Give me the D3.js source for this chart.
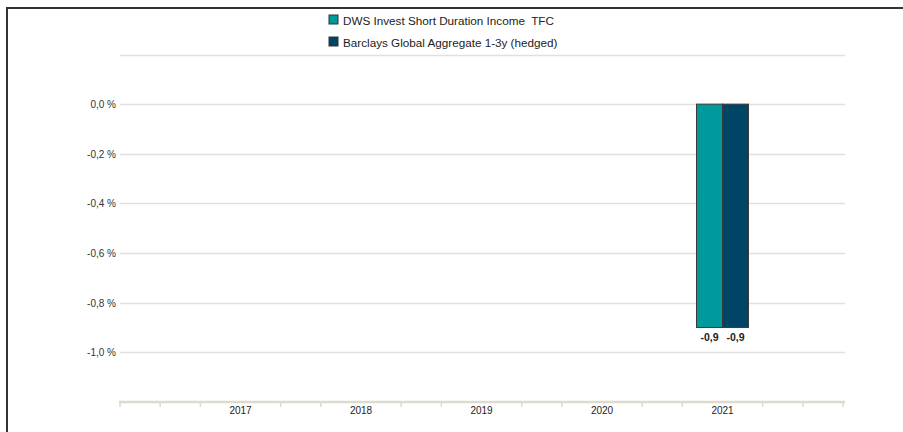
<!DOCTYPE html>
<html>
<head>
<meta charset="utf-8">
<script src="https://cdn.jsdelivr.net/npm/d3@7"></script>
<style>
  body { margin: 0; background: #fff; }
  text { font-family: "Liberation Sans", Arial, sans-serif; }
</style>
</head>
<body>
<div id="chart"></div>
<script>
// Data
const years = ['2017', '2018', '2019', '2020', '2021']
const seriesNames = ['DWS Invest Short Duration Income  TFC', 'Barclays Global Aggregate 1-3y (hedged)']
const fundValues = [null, null, null, null, -0.9]
const benchValues = [null, null, null, null, -0.9]
const yTicks = [0.2, 0, -0.2, -0.4, -0.6, -0.8, -1.0]
const colors = ['#009a9c', '#004466']

const width = 903, height = 432
const svg = d3.select('#chart')
  .append('svg')
  .attr('width', width)
  .attr('height', height)

// frame
svg.append('path')
  .attr('d', `M7,${height} V8 H${width}`)
  .attr('fill', 'none')
  .attr('stroke', '#333')
  .attr('stroke-width', 2)

// scales
const x = d3.scalePoint()
  .domain(years)
  .range([120, 843])
  .padding(1)

const y = d3.scaleLinear()
  .domain([-1.2, 0.2])
  .range([402, 54.5])

const fmt = d => d3.format('.1f')(d).replace('.', ',').replace('−', '-')

// grid
svg.append('g')
  .selectAll('line')
  .data(yTicks)
  .join('line')
  .attr('x1', 120)
  .attr('x2', 845)
  .attr('y1', d => Math.round(y(d)) + 0.5)
  .attr('y2', d => Math.round(y(d)) + 0.5)
  .attr('stroke', '#e2e0da')
  .attr('stroke-width', 1.5)

svg.append('g')
  .selectAll('text')
  .data(yTicks.filter(d => d <= 0))
  .join('text')
  .attr('x', 116)
  .attr('y', d => y(d) + 4)
  .attr('text-anchor', 'end')
  .attr('font-size', 10)
  .attr('fill', '#333')
  .text(d => fmt(d) + ' %')

// x axis
const step = x.step()
const minor = d3.range(0, 19).map(i => 120 + i * step / 3)
  .filter((v, i) => i % 3 !== 0 || i === 0 || i === 18)

svg.append('line')
  .attr('x1', 119)
  .attr('x2', 845)
  .attr('y1', y(-1.2))
  .attr('y2', y(-1.2))
  .attr('stroke', '#dedad0')
  .attr('stroke-width', 2.5)

svg.append('g')
  .selectAll('line')
  .data(minor)
  .join('line')
  .attr('x1', d => d)
  .attr('x2', d => d)
  .attr('y1', y(-1.2))
  .attr('y2', y(-1.2) + 5)
  .attr('stroke', '#dedad0')
  .attr('stroke-width', 1.5)

svg.append('g')
  .selectAll('text')
  .data(years)
  .join('text')
  .attr('x', d => x(d))
  .attr('y', y(-1.2) + 12)
  .attr('text-anchor', 'middle')
  .attr('font-size', 10)
  .attr('fill', '#222')
  .text(d => d)

// bars
const barW = 26
const series = [fundValues, benchValues]
series.forEach((vals, s) => {
  const data = years.map((yr, i) => ({ yr, v: vals[i] })).filter(d => d.v !== null)
  const g = svg.append('g')
  g.selectAll('rect')
    .data(data)
    .join('rect')
    .attr('x', d => x(d.yr) - barW + s * barW)
    .attr('y', d => y(Math.max(0, d.v)))
    .attr('width', barW)
    .attr('height', d => Math.abs(y(d.v) - y(0)))
    .attr('fill', colors[s])
    .attr('stroke', '#3a3a3a')
    .attr('stroke-width', 1)
  g.selectAll('text')
    .data(data)
    .join('text')
    .attr('x', d => x(d.yr) - barW / 2 + s * barW)
    .attr('y', d => y(d.v) + 13)
    .attr('text-anchor', 'middle')
    .attr('font-size', 10.5)
    .attr('font-weight', 'bold')
    .attr('fill', '#222')
    .text(d => fmt(d.v))
})

// legend
const legend = svg.append('g')
  .selectAll('g')
  .data(seriesNames)
  .join('g')
  .attr('transform', (d, i) => `translate(329, ${15 + i * 22})`)

legend.append('rect')
  .attr('width', 9)
  .attr('height', 9)
  .attr('fill', (d, i) => colors[i])
  .attr('stroke', '#333')
  .attr('stroke-width', 1)

legend.append('text')
  .attr('x', 14)
  .attr('y', 9.5)
  .attr('font-size', 11.7)
  .attr('fill', '#222')
  .attr('xml:space', 'preserve')
  .style('white-space', 'pre')
  .text(d => d)
</script>
</body>
</html>
